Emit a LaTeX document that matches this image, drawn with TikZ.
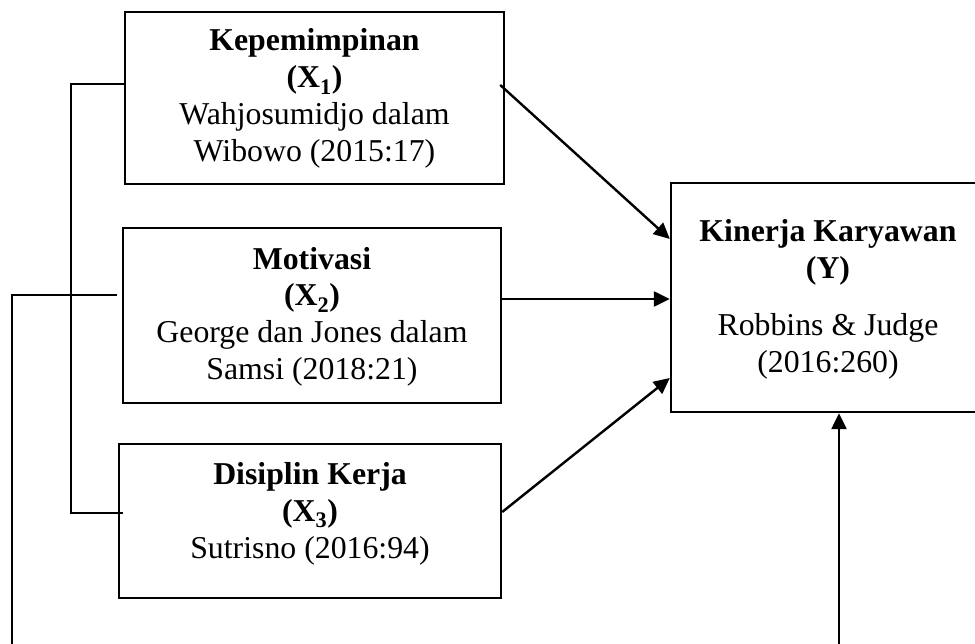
\documentclass[tikz,border=0pt]{standalone}
\usepackage{fontspec}
\setmainfont{Liberation Serif}
\usetikzlibrary{arrows.meta}
\begin{document}
\begin{tikzpicture}[x=1pt,y=-1pt,
  box/.style={draw,line width=2.4pt,inner sep=0pt},
  txt/.style={align=center,anchor=base,inner sep=0pt,font=\fontsize{31.8}{37}\selectfont},
  conn/.style={line width=2pt},
  arr/.style={line width=2.4pt,-{Triangle[length=16pt,width=15pt]}}]
\useasboundingbox (0,0) rectangle (975,644);
\node[box,minimum width=379pt,minimum height=172pt] (x1) at (314.5,98) {};
\node[box,minimum width=378pt,minimum height=175pt] (x2) at (312,315.5) {};
\node[box,minimum width=382pt,minimum height=154pt] (x3) at (310,521) {};
\node[box,minimum width=314pt,minimum height=229pt] (y) at (828,297.5) {};
\node[txt] (x1t) at (314.5,162) {\textbf{Kepemimpinan}\\\textbf{(X\textsubscript{1})}\\Wahjosumidjo dalam\\Wibowo (2015:17)};
\node[txt] (x2t) at (312,380) {\textbf{Motivasi}\\\textbf{(X\textsubscript{2})}\\George dan Jones dalam\\Samsi (2018:21)};
\node[txt] (x3t) at (310,558) {\textbf{Disiplin Kerja}\\\textbf{(X\textsubscript{3})}\\Sutrisno (2016:94)};
\node[txt] (yt) at (828,373) {\textbf{Kinerja Karyawan}\\\textbf{(Y)}\\[20pt]Robbins \& Judge\\(2016:260)};
% bracket X1 - X3
\draw[conn] ([yshift=14pt]x1.west) -- (71,84) |- ([xshift=5pt,yshift=8pt]x3.west);
% arrows to Y
\draw[arr] ([xshift=-5pt,yshift=13pt]x1.east) -- ([yshift=58.5pt]y.west);
\draw[arr] ([yshift=16.5pt]x2.east) -- ([yshift=-1.5pt]y.west);
\draw[arr] ([yshift=9pt]x3.east) -- ([yshift=-80.5pt]y.west);
% X2 loop to Y bottom
\draw[arr] ([xshift=-5pt,yshift=20.5pt]x2.west) -- (12,295) -- (12,665) -| ([xshift=11pt]y.south);
\end{tikzpicture}
\end{document}
